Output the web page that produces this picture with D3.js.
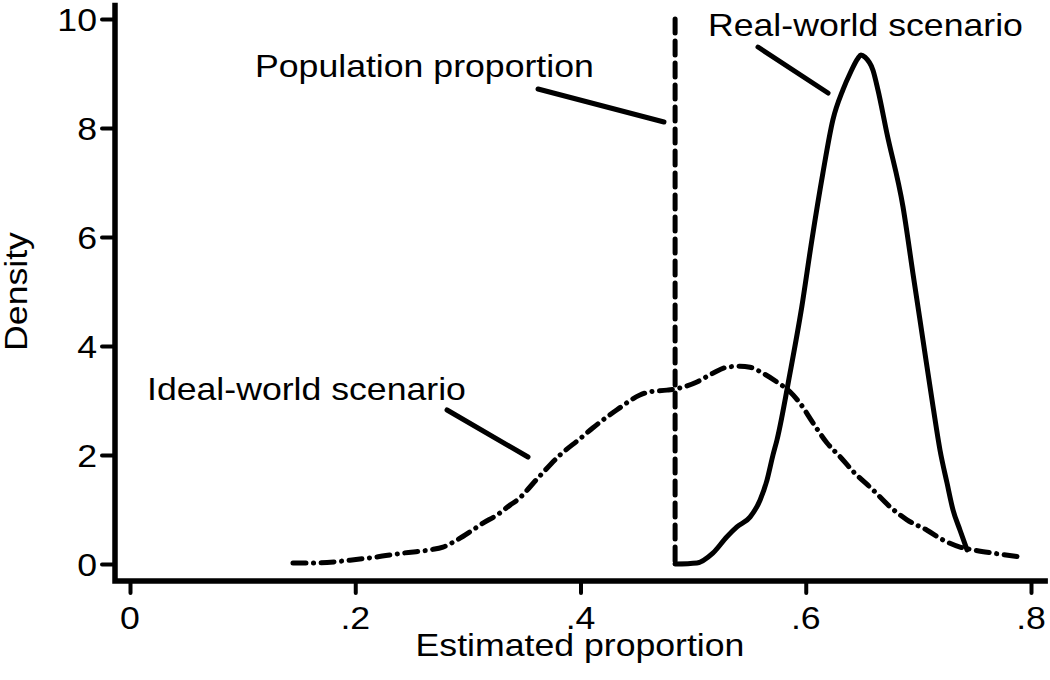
<!DOCTYPE html>
<html>
<head>
<meta charset="utf-8">
<script src="https://cdn.jsdelivr.net/npm/d3@7"></script>
<style>
  body { margin: 0; background: #fff; }
  svg { display: block; font-family: "Liberation Sans", Arial, Helvetica, sans-serif; }
</style>
</head>
<body>
<svg id="chart" width="1050" height="680"></svg>
<script>
// ---- data ----
const idealX = [0.1447,0.1660,0.1953,0.2193,0.2424,0.2664,0.2779,0.2903,0.3019,0.3134,0.3259,0.3374,0.3436,0.3623,0.3818,0.3996,0.4111,0.4324,0.4528,0.4617,0.4768,0.4883,0.5034,0.5175,0.5300,0.5416,0.5505,0.5620,0.5744,0.5860,0.5949,0.6064,0.6189,0.6304,0.6420,0.6597,0.6748,0.6899,0.7077,0.7219,0.7370,0.7485,0.7663,0.7902];
const idealY = [0.02,0.02,0.07,0.13,0.20,0.26,0.31,0.44,0.59,0.75,0.90,1.08,1.17,1.58,2.00,2.30,2.50,2.83,3.10,3.16,3.19,3.23,3.34,3.50,3.61,3.63,3.61,3.50,3.34,3.16,2.95,2.59,2.22,1.97,1.70,1.36,1.05,0.81,0.62,0.44,0.31,0.26,0.20,0.13];

const realX = [0.4839,0.5034,0.5175,0.5300,0.5389,0.5505,0.5594,0.5656,0.5709,0.5745,0.5860,0.5965,0.6054,0.6152,0.6241,0.6330,0.6393,0.6464,0.6490,0.6526,0.6597,0.6641,0.6721,0.6863,0.6952,0.7041,0.7130,0.7192,0.7254,0.7308,0.7370,0.7432];
const realY = [0.00,0.02,0.20,0.50,0.68,0.86,1.17,1.54,2.00,2.28,3.50,4.72,5.94,7.17,8.15,8.70,9.00,9.28,9.34,9.30,9.06,8.70,7.90,6.56,5.33,4.11,2.89,2.09,1.49,0.99,0.62,0.26];

const populationProportion = 0.484;
const populationRange = [0, 10];

const xTicks = [0, 0.2, 0.4, 0.6, 0.8];
const xTickLabels = ["0", ".2", ".4", ".6", ".8"];
const yTicks = [0, 2, 4, 6, 8, 10];
const yTickLabels = ["0", "2", "4", "6", "8", "10"];

const xTitle = "Estimated proportion";
const yTitle = "Density";

// annotations: label text, label anchor (data), leader line from/to (data)
const annotations = [
  { text: "Population proportion", at: [0.111, 8.936], from: [0.3623, 8.716], to: [0.4741, 8.11] },
  { text: "Real-world scenario",   at: [0.5132, 9.688], from: [0.5576, 9.486], to: [0.6198, 8.642] },
  { text: "Ideal-world scenario",  at: [0.0151, 3.009], from: [0.2815, 2.826], to: [0.3534, 1.963] }
];

// ---- layout ----
const svg = d3.select("#chart");
svg.append("rect").attr("width", 1050).attr("height", 680).attr("fill", "#fff");

const x = d3.scaleLinear().domain([0, 0.8]).range([130, 1031]);
const y = d3.scaleLinear().domain([0, 10]).range([564, 19]);

const axisX0 = 115;   // y-axis line position
const axisY0 = 581;   // x-axis line position
const FS = 31, SX = 1.15;

function txt(g, px, py, s, anchor, rot) {
  return g.append("text")
    .attr("transform", `translate(${px},${py})` + (rot ? ` rotate(${rot})` : "") + ` scale(${SX},1)`)
    .attr("text-anchor", anchor || "start")
    .attr("font-size", FS)
    .attr("fill", "#000")
    .text(s);
}

const lw = 5;

// curves
const line = d3.line().x(d => x(d[0])).y(d => y(d[1])).curve(d3.curveMonotoneX);

const idealData = idealX.map((v, i) => [v, idealY[i]]);
const realData = realX.map((v, i) => [v, realY[i]]);

svg.append("path").datum(idealData)
  .attr("d", line)
  .attr("fill", "none").attr("stroke", "#000").attr("stroke-width", lw)
  .attr("stroke-linecap", "round")
  .attr("stroke-dasharray", "13,7.5,0.1,7.5");

svg.append("path").datum(realData)
  .attr("d", line)
  .attr("fill", "none").attr("stroke", "#000").attr("stroke-width", lw)
  .attr("stroke-linejoin", "round").attr("stroke-linecap", "round");

// population proportion vertical line
svg.append("line")
  .attr("x1", x(populationProportion)).attr("x2", x(populationProportion))
  .attr("y1", y(populationRange[1])).attr("y2", y(populationRange[0]))
  .attr("stroke", "#000").attr("stroke-width", lw)
  .attr("stroke-linecap", "round")
  .attr("stroke-dasharray", "14,8");

// axes
const axisG = svg.append("g");
axisG.append("path")
  .attr("d", `M${axisX0},${y(10.3)} V${axisY0} H${x(0.815)}`)
  .attr("fill", "none").attr("stroke", "#000").attr("stroke-width", 5.5)
  .attr("stroke-linejoin", "miter");

const yAxis = d3.axisLeft(y).tickValues(yTicks).tickSize(13).tickFormat("");
const gy = svg.append("g").attr("transform", `translate(${axisX0},0)`).call(yAxis);
gy.select(".domain").remove();
gy.selectAll(".tick line").attr("stroke", "#000").attr("stroke-width", 4).attr("stroke-linecap", "round");
yTicks.forEach((t, i) => txt(svg, axisX0 - 18, y(t) + 12, yTickLabels[i], "end"));

const xAxis = d3.axisBottom(x).tickValues(xTicks).tickSize(12).tickFormat("");
const gx = svg.append("g").attr("transform", `translate(0,${axisY0})`).call(xAxis);
gx.select(".domain").remove();
gx.selectAll(".tick line").attr("stroke", "#000").attr("stroke-width", 4).attr("stroke-linecap", "round");
xTicks.forEach((t, i) => txt(svg, x(t), 629, xTickLabels[i], "middle"));

// titles
txt(svg, 580, 656, xTitle, "middle");
txt(svg, 27, (y(0) + y(10)) / 2, yTitle, "middle", -90);

// annotations
annotations.forEach(a => {
  txt(svg, x(a.at[0]), y(a.at[1]), a.text, "start");
  svg.append("line")
    .attr("x1", x(a.from[0])).attr("y1", y(a.from[1]))
    .attr("x2", x(a.to[0])).attr("y2", y(a.to[1]))
    .attr("stroke", "#000").attr("stroke-width", lw).attr("stroke-linecap", "round");
});
</script>
</body>
</html>
